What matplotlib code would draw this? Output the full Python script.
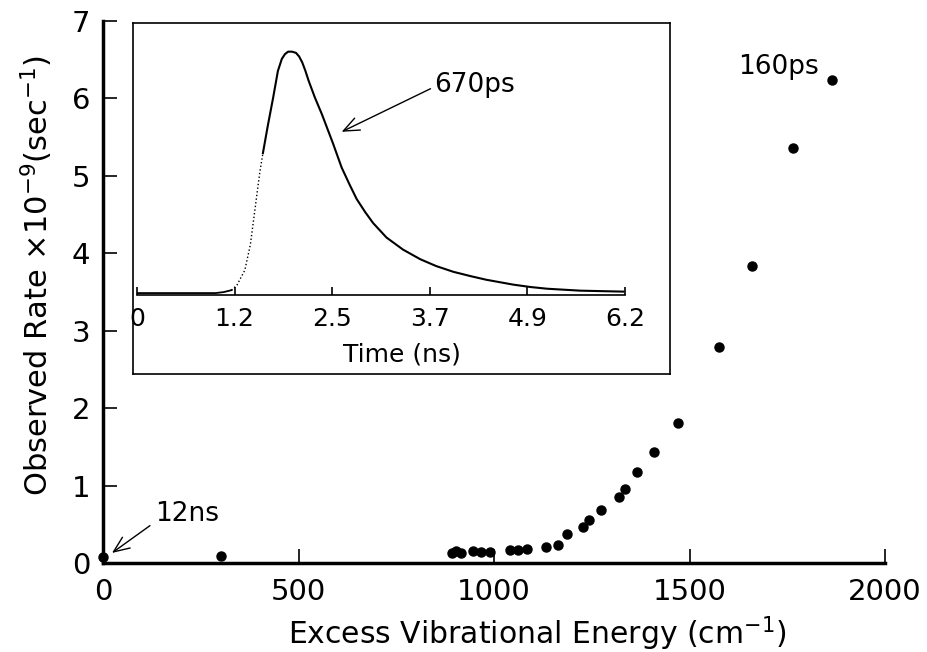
import matplotlib
matplotlib.use('Agg')
import matplotlib.pyplot as plt
import numpy as np

# ---- main data: excess vibrational energy (cm^-1) vs observed rate (x1e9 s^-1)
energy = [0, 303, 892, 904, 916, 947, 968, 990, 1041, 1062, 1085, 1134, 1163,
          1186, 1228, 1243, 1274, 1320, 1336, 1365, 1410, 1471, 1575, 1661,
          1764, 1864]
rate = [0.083, 0.09, 0.13, 0.15, 0.13, 0.16, 0.14, 0.14, 0.17, 0.17, 0.18,
        0.21, 0.23, 0.37, 0.47, 0.56, 0.68, 0.85, 0.96, 1.18, 1.43, 1.81,
        2.79, 3.84, 5.36, 6.24]
x_ticks = [0, 500, 1000, 1500, 2000]
y_ticks = [0, 1, 2, 3, 4, 5, 6, 7]

# ---- inset: fluorescence decay trace (time in ns, normalised intensity)
base_t = [0.0, 0.5, 1.0, 1.1, 1.2]
base_i = [0.0, 0.0, 0.0, 0.004, 0.012]
rise_t = [1.2, 1.27, 1.37, 1.44, 1.48, 1.52, 1.56, 1.60]
rise_i = [0.012, 0.033, 0.095, 0.20, 0.30, 0.40, 0.50, 0.58]
decay_t = [1.60, 1.66, 1.73, 1.79, 1.84, 1.88, 1.92, 1.97, 2.02, 2.06, 2.10,
           2.14, 2.18, 2.26, 2.35, 2.42, 2.49, 2.60, 2.70, 2.79, 2.90, 3.00,
           3.17, 3.38, 3.60, 3.80, 4.02, 4.24, 4.44, 4.78, 5.00, 5.21, 5.63,
           6.18]
decay_i = [0.58, 0.69, 0.81, 0.92, 0.97, 0.99, 1.0, 1.0, 0.995, 0.98, 0.955,
           0.92, 0.88, 0.81, 0.74, 0.68, 0.62, 0.52, 0.45, 0.39, 0.335, 0.29,
           0.23, 0.18, 0.14, 0.112, 0.088, 0.07, 0.055, 0.035, 0.025, 0.018,
           0.010, 0.006]
inset_tick_labels = ['0', '1.2', '2.5', '3.7', '4.9', '6.2']

W, H = 927, 652
fig = plt.figure(figsize=(W / 100, H / 100), dpi=100)

def px(l, t, r, b):
    return [l / W, 1 - b / H, (r - l) / W, (b - t) / H]

# main axes
ax = fig.add_axes(px(103, 21, 885, 563))
ax.plot(energy, rate, 'o', color='black', ms=6.5, clip_on=False, zorder=5)
ax.set_xlim(0, 2000)
ax.set_ylim(0, 7)
ax.set_xticks(x_ticks)
ax.set_yticks(y_ticks)
for s in ['top', 'right']:
    ax.spines[s].set_visible(False)
for s in ['left', 'bottom']:
    ax.spines[s].set_linewidth(2.5)
ax.tick_params(axis='both', direction='in', length=10, width=1.2,
               labelsize=21)
ax.tick_params(axis='x', pad=11)
ax.tick_params(axis='y', pad=9)
ax.set_xlabel('Excess Vibrational Energy (cm$^{-1}$)', fontsize=21.5)
ax.xaxis.set_label_coords(0.555, -0.095)
ax.set_ylabel('Observed Rate \u00d710$^{-9}$(sec$^{-1}$)', fontsize=22)
ax.yaxis.set_label_coords(-0.062, 0.53)

ax.annotate('12ns', xy=(23, 0.13), xytext=(133, 0.63), fontsize=19,
            ha='left', va='center',
            arrowprops=dict(arrowstyle='->,head_length=0.6,head_width=0.25',
                            lw=1.0, color='black', relpos=(0, 0.2),
                            shrinkA=2, shrinkB=0))
ax.text(1624, 6.41, '160ps', fontsize=19, ha='left', va='center')

# inset frame
frame = fig.add_axes(px(133, 22.7, 670, 374))
frame.set_xticks([])
frame.set_yticks([])
for s in frame.spines.values():
    s.set_linewidth(1.2)
frame.set_facecolor('white')

# inset plotting axes
ai = fig.add_axes(px(137, 22.7, 625, 295))
ai.patch.set_alpha(0)
ai.plot(base_t, base_i, '-', color='black', lw=1.3)
ai.plot(rise_t, rise_i, ':', color='black', lw=1.0)
ai.plot(decay_t, decay_i, '-', color='black', lw=1.5)
ai.set_xlim(0, 6.2)
ai.set_ylim(-0.008, 1.12)
ai.set_xticks(np.linspace(0, 6.2, len(inset_tick_labels)))
ai.set_xticklabels(inset_tick_labels)
ai.set_yticks([])
for s in ['top', 'right', 'left']:
    ai.spines[s].set_visible(False)
ai.spines['bottom'].set_linewidth(1.2)
ai.tick_params(axis='x', direction='in', length=6, width=1.2, labelsize=18,
               pad=9)
ai.set_xlabel('Time (ns)', fontsize=18, labelpad=6)
ai.xaxis.set_label_coords(0.543, -0.175)
ai.annotate('670ps', xy=(2.60, 0.668), xytext=(3.78, 0.86), fontsize=19,
            ha='left', va='center',
            arrowprops=dict(arrowstyle='->,head_length=0.6,head_width=0.25',
                            lw=1.0, color='black', relpos=(0, 0.45),
                            shrinkA=1, shrinkB=0))

fig.savefig('out.png', dpi=100)
